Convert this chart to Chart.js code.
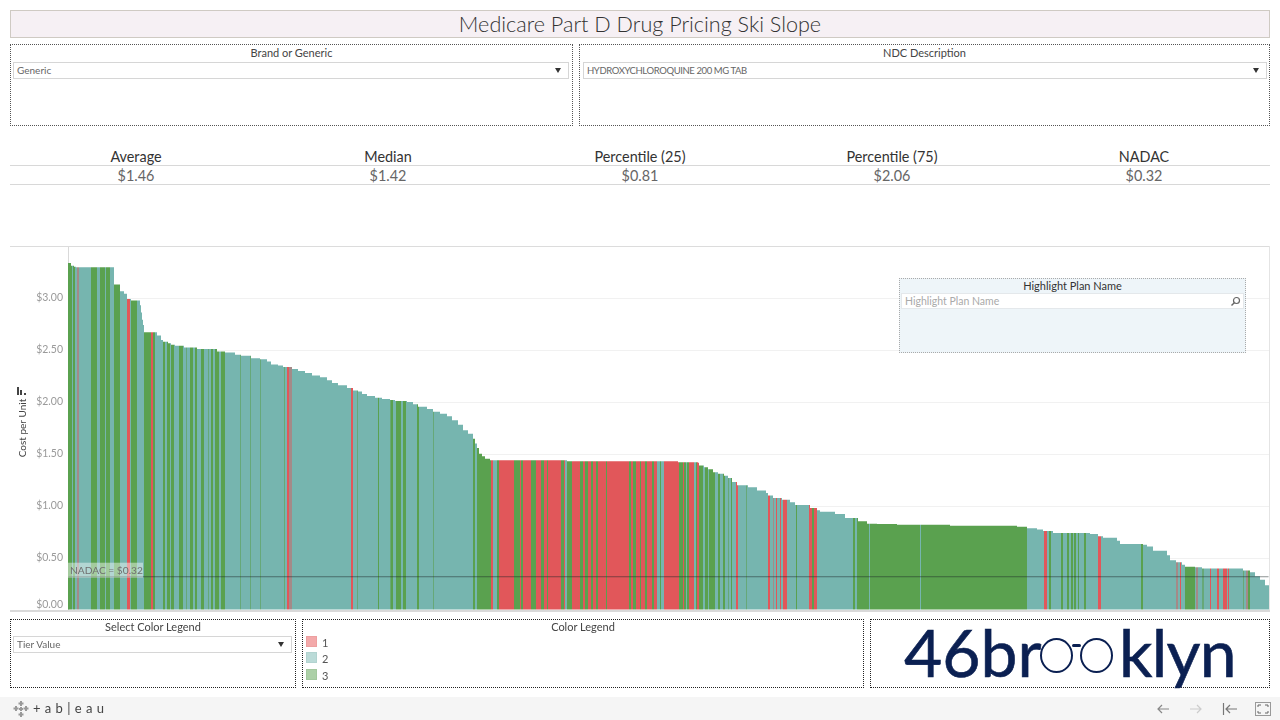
<!DOCTYPE html>
<html>
<head>
<meta charset="utf-8">
<title>Medicare Part D Drug Pricing Ski Slope</title>
<script src="https://cdn.jsdelivr.net/npm/chart.js@4"></script>
<style>
  html, body { margin: 0; padding: 0; background: #fff; }
  body { width: 1280px; height: 720px; position: relative; overflow: hidden; font-family: Lato, "Open Sans", sans-serif; color: #444; }
  .abs { position: absolute; box-sizing: border-box; }
  #titulo { left: 10px; top: 10px; width: 1260px; height: 28px; background: #f6f0f4; border: 1px solid #cfcac3; text-align: center; font-size: 21.6px; line-height: 27px; font-weight: 300; color: #333; }
  .painel { border: 1px dotted #555; }
  .painel .nome { position: absolute; left: 0; right: 0; text-align: center; font-size: 11px; color: #444; }
  .combo { position: absolute; box-sizing: border-box; height: 17px; border: 1px solid #d6d6d6; background: #fff; font-size: 10px; line-height: 15px; color: #666; padding-left: 3px; }
  .combo i { position: absolute; right: 7px; top: 5px; width: 0; height: 0; border-left: 3px solid transparent; border-right: 3px solid transparent; border-top: 5px solid #333; }
  .kpi { width: 252px; text-align: center; }
  .kpi .cab { font-size: 14.4px; line-height: 16px; color: #333; }
  .kpi .val { font-size: 14.4px; line-height: 16px; color: #666; margin-top: 3px; }
  .linha { background: #d8d8d8; height: 1px; }
  #busca { left: 899px; top: 278px; width: 347px; height: 75px; background: #eef5f9; border: 1px dotted #aaa; }
  #busca .nome { position: absolute; left: 0; right: 0; top: 0; text-align: center; font-size: 11px; color: #333; }
  #busca .campo { position: absolute; left: 1px; right: 1px; top: 14px; height: 16px; box-sizing: border-box; background: #fff; border: 1px solid #e4e8eb; font-size: 10.5px; line-height: 14px; color: #aaa; padding-left: 3px; }
  .amostra { position: absolute; left: 3px; width: 11px; height: 11px; box-sizing: border-box; }
  .numLeg { position: absolute; left: 19px; font-size: 11px; line-height: 11px; color: #555; }
  #logo span { position: absolute; font-size: 66px; line-height: 66px; color: #0b2052; font-weight: 400; -webkit-text-stroke: .6px #0b2052; }
  #logo .aro { position: absolute; width: 33px; height: 35px; border: 2px solid #0b2052; border-radius: 50%; box-sizing: border-box; top: 18px; }
  #logo .ponte { position: absolute; left: 201px; top: 24px; width: 9px; height: 3px; background: #0b2052; border-radius: 2px; }
  #rodape { left: 0; top: 697px; width: 1280px; height: 23px; background: #f5f5f5; }
  #rodape .marca { position: absolute; left: 33px; top: 3px; font-size: 13px; line-height: 16px; letter-spacing: 4.3px; color: #444; }
  #rodape svg { position: absolute; }
</style>
</head>
<body>

<canvas id="graficoEsqui" class="abs" width="1260" height="404" style="left:10px;top:226px;width:1260px;height:404px"></canvas>

<div id="titulo" class="abs">Medicare Part D Drug Pricing Ski Slope</div>

<div class="abs painel" style="left:10px;top:44px;width:563px;height:82px">
  <div class="nome" style="top:1px">Brand or Generic</div>
  <div class="combo" style="left:2px;top:17px;width:556px">Generic<i></i></div>
</div>
<div class="abs painel" style="left:579px;top:44px;width:691px;height:82px">
  <div class="nome" style="top:1px">NDC Description</div>
  <div class="combo" style="left:3px;top:17px;width:684px;font-size:9.5px;letter-spacing:-.4px">HYDROXYCHLOROQUINE 200 MG TAB<i></i></div>
</div>

<div id="kpis"></div>
<div class="abs linha" style="left:10px;top:165px;width:1260px"></div>
<div class="abs linha" style="left:10px;top:184px;width:1260px"></div>

<!-- bordas do grafico -->
<div class="abs" style="left:10px;top:246px;width:1260px;height:1px;background:#dcdcdc"></div>
<div class="abs" style="left:1269px;top:246px;width:1px;height:365px;background:#e4e4e4"></div>
<div class="abs" style="left:10px;top:610px;width:1260px;height:2px;background:#d9d9d9"></div>
<div class="abs" style="left:17px;top:387px;width:2px;height:8px;background:#444"></div>
<div class="abs" style="left:20px;top:390px;width:2px;height:5px;background:#444"></div>
<div class="abs" style="left:24px;top:393px;width:2px;height:2px;background:#444"></div>

<div id="busca" class="abs">
  <div class="nome">Highlight Plan Name</div>
  <div class="campo">Highlight Plan Name
    <svg width="11" height="11" style="position:absolute;right:2px;top:2px"><circle cx="6.5" cy="4.5" r="3" fill="none" stroke="#666" stroke-width="1.2"/><line x1="4.3" y1="6.8" x2="1.5" y2="9.6" stroke="#666" stroke-width="1.4"/></svg>
  </div>
</div>

<div class="abs painel" style="left:10px;top:619px;width:286px;height:69px;border-color:#222">
  <div class="nome" style="top:0">Select Color Legend</div>
  <div class="combo" style="left:2px;top:16px;width:279px">Tier Value<i></i></div>
</div>
<div id="legenda" class="abs painel" style="left:302px;top:619px;width:562px;height:69px;border-color:#222">
  <div class="nome" style="top:0">Color Legend</div>
</div>
<div id="logo" class="abs painel" style="left:870px;top:619px;width:400px;height:69px;border-color:#222">
  <span style="left:33px;top:-1px">46br</span>
  <div class="aro" style="left:169px"></div>
  <div class="ponte"></div>
  <div class="aro" style="left:209px"></div>
  <span style="left:248px;top:-1px;letter-spacing:-.8px">klyn</span>
</div>

<div id="rodape" class="abs">
  <svg width="16" height="16" style="left:13px;top:4px"><g fill="#999"><rect x="7" y="0" width="2" height="5"/><rect x="5.5" y="1.5" width="5" height="2"/><rect x="7" y="11" width="2" height="5"/><rect x="5.5" y="12.5" width="5" height="2"/><rect x="2" y="5" width="2" height="5"/><rect x="0.5" y="6.5" width="5" height="2"/><rect x="12" y="5" width="2" height="5"/><rect x="10.5" y="6.5" width="5" height="2"/><rect x="7" y="6" width="2" height="4"/><rect x="6" y="7" width="4" height="2"/></g></svg>
  <div class="marca">+ab|eau</div>
  <svg width="14" height="12" style="left:1156px;top:6px"><path d="M13 6H2M6 2L2 6l4 4" fill="none" stroke="#888" stroke-width="1.2"/></svg>
  <svg width="14" height="12" style="left:1189px;top:6px"><path d="M1 6h11M8 2l4 4-4 4" fill="none" stroke="#ccc" stroke-width="1.2"/></svg>
  <svg width="16" height="14" style="left:1222px;top:5px"><path d="M1.5 1v12M15 7H4M8 3L4 7l4 4" fill="none" stroke="#777" stroke-width="1.2"/></svg>
  <svg width="16" height="14" style="left:1255px;top:5px"><rect x="0.5" y="0.5" width="15" height="13" fill="none" stroke="#999"/><path d="M3 5V3h3M10 3h3v2M13 9v2h-3M6 11H3V9" fill="none" stroke="#666"/></svg>
</div>

<script>
// Valores
const tituloEixoY = 'Cost per Unit';
const nadac = 0.32;
const nadacTexto = 'NADAC = $0.32';

const kpiNomes = ['Average', 'Median', 'Percentile (25)', 'Percentile (75)', 'NADAC'];
const kpiValores = ['$1.46', '$1.42', '$0.81', '$2.06', '$0.32'];

const tierNomes = ['1', '2', '3'];

// [custo, quantidade de planos com esse custo]
const degrausCusto = [
    [3.336,3],[3.31,3],[3.30,2],[3.295,38],[3.13,6],[3.065,4],[3.04,3],[2.99,4],[2.975,9],[2.93,1],
    [2.86,1],[2.79,1],[2.74,1],[2.67,13],[2.64,4],[2.595,2],[2.58,5],[2.565,3],[2.55,4],[2.54,9],
    [2.525,13],[2.51,20],[2.485,8],[2.475,10],[2.455,6],[2.445,10],[2.42,9],[2.41,7],[2.39,4],[2.36,7],
    [2.35,5],[2.337,9],[2.317,6],[2.298,7],[2.28,7],[2.256,8],[2.237,7],[2.208,5],[2.183,6],[2.16,9],
    [2.135,6],[2.11,5],[2.10,4],[2.077,5],[2.057,8],[2.04,7],[2.03,8],[2.02,5],[2.01,12],[2.00,6],
    [1.978,5],[1.955,9],[1.933,6],[1.907,7],[1.888,7],[1.862,5],[1.824,6],[1.782,5],[1.728,5],[1.695,5],
    [1.647,2],[1.60,2],[1.558,2],[1.503,3],[1.478,3],[1.455,5],[1.44,77],[1.43,111],[1.42,20],
    [1.417,1],[1.39,5],[1.372,4],[1.353,5],[1.324,5],[1.31,6],[1.29,4],[1.27,4],[1.23,5],[1.20,11],
    [1.18,9],[1.15,9],[1.125,2],[1.10,5],[1.077,9],[1.06,8],[1.035,5],[1.01,15],[0.98,7],[0.958,3],
    [0.945,15],[0.923,10],[0.885,13],[0.853,9],[0.83,10],[0.827,20],[0.82,53],[0.81,67],[0.80,10],
    [0.785,10],[0.775,6],[0.76,10],[0.74,37],[0.73,8],[0.708,5],[0.695,14],[0.666,3],[0.635,23],
    [0.628,4],[0.61,6],[0.57,14],[0.526,3],[0.478,6],[0.46,6],[0.436,3],[0.417,10],[0.41,7],[0.40,41],
    [0.38,7],[0.363,5],[0.324,5],[0.29,5],[0.237,4]
];

// [tier, quantidade de planos]. 12 e 23 = faixas finas onde dois tiers se misturam
const faixasTier = [
    [3,4],[2,1],[3,2],[2,2],[12,2],[2,12],[3,6],[2,3],[3,5],[2,1],[3,4],[2,4],[3,6],[2,7],[1,3],[2,1],
    [3,6],[2,7],[3,7],[1,2],[3,2],[2,8],[3,2],[2,2],[3,3],[2,1],[3,3],[2,5],[3,4],[2,3],[23,1],[2,3],
    [3,3],[2,2],[3,2],[2,4],[3,3],[2,4],[23,1],[2,2],[3,2],[2,2],[3,4],[2,2],[3,4],[2,15],[23,1],[2,9],
    [23,1],[2,9],[23,1],[2,23],[23,1],[2,2],[1,2],[12,3],[2,59],[1,2],[2,4],[23,1],[2,20],[3,1],[2,11],
    [23,1],[3,2],[2,3],[3,5],[2,2],[3,3],[2,11],[3,2],[2,14],[23,1],[2,39],[3,2],[2,2],[3,14],[1,2],
    [2,4],[3,2],[1,15],[3,6],[1,1],[3,2],[1,8],[3,5],[1,5],[3,3],[1,3],[3,1],[1,13],[3,3],[1,1],[2,2],
    [3,5],[1,8],[3,3],[1,2],[3,3],[1,3],[3,2],[1,3],[3,2],[1,8],[3,1],[1,22],[3,2],[1,2],[3,3],[1,4],
    [3,1],[1,4],[3,2],[1,5],[3,2],[1,3],[2,3],[3,1],[2,3],[1,15],[3,4],[1,1],[3,2],[2,1],[3,2],[1,5],
    [2,2],[3,1],[1,2],[3,4],[2,2],[3,3],[2,1],[3,6],[2,3],[3,2],[2,3],[3,2],[2,3],[23,1],[2,2],[3,1],
    [2,4],[1,2],[2,8],[23,1],[2,21],[1,2],[2,3],[12,1],[2,2],[1,1],[2,3],[1,1],[2,2],[1,4],[2,9],[3,1],
    [2,12],[1,3],[3,2],[1,3],[2,36],[3,2],[2,2],[3,12],[2,1],[3,50],[2,1],[3,106],[2,17],[1,3],[2,2],
    [3,2],[2,10],[3,2],[2,4],[3,2],[2,2],[3,2],[2,1],[3,2],[2,2],[3,1],[2,5],[3,2],[2,12],[1,3],[2,40],
    [3,2],[2,33],[12,2],[2,2],[1,1],[2,4],[3,10],[2,1],[12,2],[2,4],[23,2],[2,6],[1,1],[2,6],[1,2],
    [2,4],[1,4],[2,1],[1,1],[2,14],[23,1],[2,2],[12,2],[3,2],[2,19]
];

const coresTier = { 1: '#e1575a', 2: '#76b5af', 3: '#5aa14f', 12: '#a48a88', 23: '#66a878' };
const coresLegenda = { 1: ['#f3a9aa', '#eda0a0'], 2: ['#bbdbd8', '#b2d3d0'], 3: ['#acd0a7', '#a3c89e'] };

// Abre os degraus em um valor por plano
const custoPorPlano = degrausCusto.flatMap(([custo, qtd]) => Array(qtd).fill(custo));
const tierPorPlano = faixasTier.flatMap(([tier, qtd]) => Array(qtd).fill(tier));
const planos = custoPorPlano.map((_, i) => i + 1);
const linhaNadac = planos.map(() => nadac);

// Cards do topo
kpiNomes.forEach((nome, i) => {
    const el = document.createElement('div');
    el.className = 'abs kpi';
    el.style.left = (10 + i * 252) + 'px';
    el.style.top = '149px';
    el.innerHTML = `<div class="cab">${nome}</div><div class="val">${kpiValores[i]}</div>`;
    document.body.appendChild(el);
});

// Legenda de cor
tierNomes.forEach((nome, i) => {
    const legenda = document.getElementById('legenda');
    const topo = 15.5 + i * 16.5;
    const caixa = document.createElement('div');
    caixa.className = 'amostra';
    caixa.style.top = topo + 'px';
    caixa.style.background = coresLegenda[nome][0];
    caixa.style.border = '1px solid ' + coresLegenda[nome][1];
    const num = document.createElement('div');
    num.className = 'numLeg';
    num.style.top = (topo + 1) + 'px';
    num.textContent = nome;
    legenda.appendChild(caixa);
    legenda.appendChild(num);
});

// Etiqueta do NADAC em cima da linha
const etiquetaNadac = {
    id: 'etiquetaNadac',
    afterDatasetsDraw(chart) {
        const { ctx, scales: { y }, chartArea } = chart;
        const py = y.getPixelForValue(nadac);
        ctx.save();
        ctx.fillStyle = 'rgba(255,255,255,0.45)';
        ctx.fillRect(chartArea.left, py - 14, 75, 15);
        ctx.font = '10.2px Lato';
        ctx.fillStyle = '#6f6f6f';
        ctx.textBaseline = 'middle';
        ctx.fillText(nadacTexto, chartArea.left + 2, py - 6.5);
        ctx.restore();
    }
};

new Chart(document.getElementById('graficoEsqui').getContext('2d'), {
    data: {
        labels: planos,
        datasets: [
            {
                type: 'line',
                data: linhaNadac,
                borderColor: 'rgba(30,40,40,0.55)',
                borderWidth: 1,
                pointRadius: 0,
                order: 0
            },
            {
                type: 'bar',
                data: custoPorPlano,
                backgroundColor: tierPorPlano.map(t => coresTier[t]),
                borderWidth: 0,
                barPercentage: 1,
                categoryPercentage: 1,
                inflateAmount: 0,
                order: 1
            }
        ]
    },
    options: {
        responsive: false,
        animation: false,
        devicePixelRatio: 1,
        layout: { padding: { top: 20, right: 1, bottom: 20, left: 0 } },
        plugins: { legend: { display: false }, tooltip: { enabled: false } },
        scales: {
            x: { display: false },
            y: {
                min: 0,
                max: 3.5,
                afterFit(scale) { scale.width = 58; },
                border: { color: '#d9d9d9' },
                grid: {
                    drawTicks: false,
                    color: ctx => (ctx.tick.value === 0 || ctx.tick.value === 3.5) ? 'transparent' : '#f1f1f1'
                },
                ticks: {
                    stepSize: 0.5,
                    autoSkip: false,
                    padding: 5,
                    color: '#9a9a9a',
                    font: { family: 'Lato', size: 10.5, lineHeight: 1 },
                    callback(v) {
                        if (v === 3.5) return '';
                        const txt = '$' + v.toFixed(2);
                        return v === 0 ? [txt, ''] : txt;
                    }
                },
                title: {
                    display: true,
                    text: tituloEixoY,
                    color: '#444',
                    font: { family: 'Lato', size: 10 },
                    padding: { top: 7, bottom: 0 }
                }
            }
        }
    },
    plugins: [etiquetaNadac]
});
</script>
</body>
</html>
